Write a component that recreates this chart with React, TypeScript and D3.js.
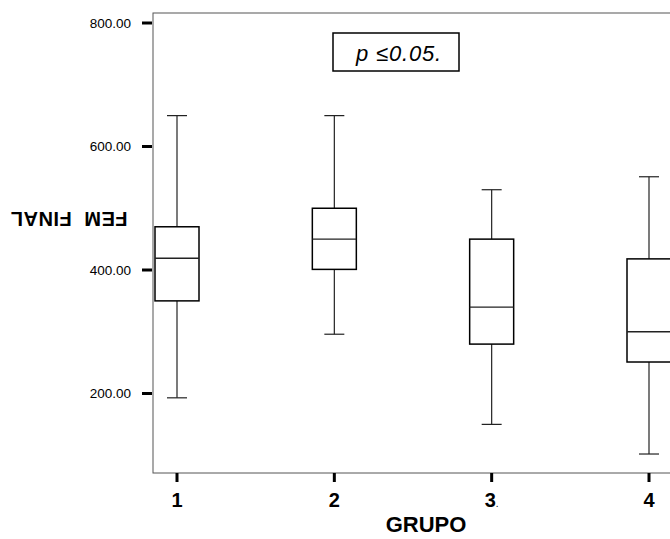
import React from "react";
import * as d3 from "d3";

// FEM FINAL by GRUPO – five-number summaries per group
const groups = ["1", "2", "3", "4"];
const groupLabels = ["1", "2", "3", "4"];
const whiskerLow = [193, 296, 150, 102];
const q1 = [350, 401, 280, 251];
const median = [419, 450, 340, 300];
const q3 = [470, 500, 450, 418];
const whiskerHigh = [650, 650, 530, 551];
const yTicks = [200, 400, 600, 800];

const W = 670;
const H = 539;
const frame = { left: 153, top: 13, right: 720, bottom: 473 };
const boxWidth = 44;
const capWidth = 20;

export default function App() {
  const x = d3.scalePoint<string>().domain(groups).range([177, 649]);
  const y = d3.scaleLinear().domain([200, 800]).range([393.5, 23]);
  const fmt = d3.format(".2f");

  const data = groups.map((g, i) => ({
    g,
    lo: whiskerLow[i],
    q1: q1[i],
    med: median[i],
    q3: q3[i],
    hi: whiskerHigh[i],
  }));

  return (
    <svg
      width={W}
      height={H}
      style={{ position: "absolute", left: 0, top: 0, background: "#fff" }}
      fontFamily="'Liberation Sans', Arial, Helvetica, sans-serif"
    >
      <rect x={0} y={0} width={W} height={H} fill="#fff" />
      {/* plot frame */}
      <rect
        x={frame.left}
        y={frame.top}
        width={frame.right - frame.left}
        height={frame.bottom - frame.top}
        fill="none"
        stroke="#555"
        strokeWidth={1}
      />

      {/* y axis ticks and labels */}
      {yTicks.map((t) => (
        <g key={t}>
          <line x1={142} x2={152} y1={y(t)} y2={y(t)} stroke="#000" strokeWidth={3} />
          <text x={131} y={y(t)} dy="0.35em" textAnchor="end" fontSize={13.5} fill="#000">
            {fmt(t)}
          </text>
        </g>
      ))}

      {/* x axis ticks and labels */}
      {groups.map((g, i) => (
        <g key={g}>
          <line x1={x(g)} x2={x(g)} y1={frame.bottom} y2={frame.bottom + 9} stroke="#000" strokeWidth={3} />
          <text x={x(g)} y={507} textAnchor="middle" fontSize={20} fontWeight="bold" fill="#000">
            {groupLabels[i]}
            {g === "3" ? (
              <tspan fontSize={10} fontWeight="normal">.</tspan>
            ) : null}
          </text>
        </g>
      ))}

      {/* boxes */}
      {data.map((d) => {
        const cx = x(d.g) as number;
        return (
          <g key={d.g}>
            <line x1={cx} x2={cx} y1={y(d.hi)} y2={y(d.q3)} stroke="#222" strokeWidth={1.2} />
            <line x1={cx} x2={cx} y1={y(d.q1)} y2={y(d.lo)} stroke="#222" strokeWidth={1.2} />
            <line x1={cx - capWidth / 2} x2={cx + capWidth / 2} y1={y(d.hi)} y2={y(d.hi)} stroke="#222" strokeWidth={1.2} />
            <line x1={cx - capWidth / 2} x2={cx + capWidth / 2} y1={y(d.lo)} y2={y(d.lo)} stroke="#222" strokeWidth={1.2} />
            <rect
              x={cx - boxWidth / 2}
              y={y(d.q3)}
              width={boxWidth}
              height={y(d.q1) - y(d.q3)}
              fill="#fff"
              stroke="#000"
              strokeWidth={1.5}
            />
            <line x1={cx - boxWidth / 2} x2={cx + boxWidth / 2} y1={y(d.med)} y2={y(d.med)} stroke="#222" strokeWidth={1.3} />
          </g>
        );
      })}

      {/* significance note */}
      <rect x={333} y={33} width={126} height={38} fill="#fff" stroke="#000" strokeWidth={1.5} />
      <text x={399} y={61} textAnchor="middle" fontSize={22} fontStyle="italic" letterSpacing={0.8} fill="#000">
        p ≤0.05.
      </text>

      {/* axis titles */}
      <text
        transform="translate(69,219) rotate(180)"
        textAnchor="middle"
        dy="0.35em"
        fontSize={20}
        fontWeight="bold"
        letterSpacing={0.5}
        fill="#000"
        style={{ whiteSpace: "pre" }}
      >
        {"FEM  FINAL"}
      </text>
      <text x={426} y={532} textAnchor="middle" fontSize={22} fontWeight="bold" fill="#000">
        GRUPO
      </text>
    </svg>
  );
}
